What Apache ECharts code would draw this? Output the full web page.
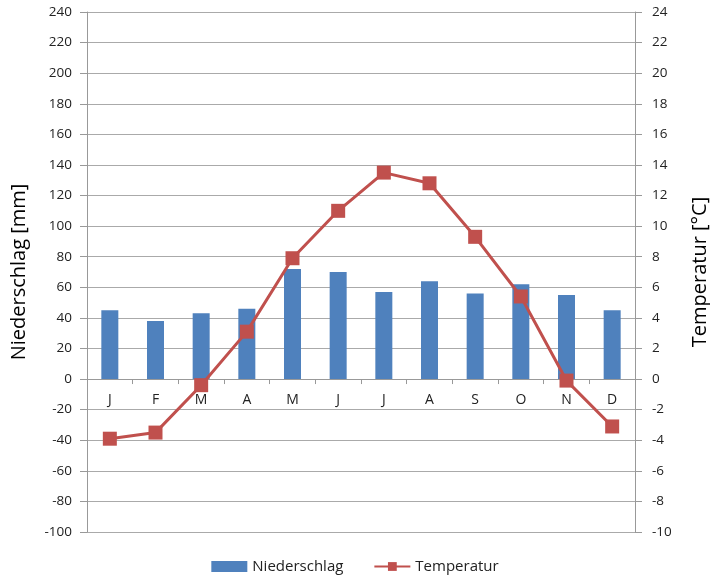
<!DOCTYPE html>
<html><head><meta charset="utf-8">
<script src="https://cdn.jsdelivr.net/npm/echarts@6/dist/echarts.min.js"></script>
<style>html,body{margin:0;padding:0;background:#fff}#c{width:710px;height:583px}</style>
</head><body><div id="c"></div>
<script>
var months = ['J','F','M','A','M','J','J','A','S','O','N','D'];
var niederschlag = [45, 38, 43, 46, 72, 70, 57, 64, 56, 62, 55, 45];
var temperatur = [-3.9, -3.5, -0.4, 3.1, 7.9, 11.0, 13.5, 12.8, 9.3, 5.4, -0.1, -3.1];

var chart = echarts.init(document.getElementById('c'));
var font = 'Open Sans';
var gridTop = 12, gridBottom = 51, chartH = 583;
var yMin = -100, yMax = 240;
var plotH = chartH - gridTop - gridBottom;
var zeroOffset = -plotH * (0 - yMin) / (yMax - yMin);
chart.setOption({
  animation: false,
  textStyle: {fontFamily: font},
  grid: {left: 87, right: 75, top: gridTop, bottom: gridBottom, outerBoundsMode: 'none', containLabel: false},
  legend: {
    bottom: 4, left: 'center', itemGap: 30, itemWidth: 36, itemHeight: 11,
    textStyle: {fontSize: 15, color: '#222', fontFamily: font},
    data: [
      {name: 'Niederschlag', icon: 'rect'},
      {name: 'Temperatur'}
    ]
  },
  xAxis: {
    type: 'category', data: months, boundaryGap: true, position: 'bottom', offset: zeroOffset,
    axisLine: {onZero: false, lineStyle: {color: '#999', width: 1}},
    axisTick: {show: true, length: 5, lineStyle: {color: '#999'}},
    axisLabel: {color: '#222', fontSize: 14, margin: 14, fontFamily: font},
    splitLine: {show: false}
  },
  yAxis: [{
    type: 'value', min: yMin, max: yMax, interval: 20,
    name: 'Niederschlag [mm]', nameLocation: 'middle', nameGap: 58,
    nameTextStyle: {fontSize: 20, color: '#000', fontFamily: font},
    axisLine: {show: true, lineStyle: {color: '#999'}},
    axisTick: {show: true, length: 7, lineStyle: {color: '#999'}},
    axisLabel: {color: '#222', fontSize: 13.5, margin: 15, fontFamily: font},
    splitLine: {show: true, lineStyle: {color: '#aaa', width: 1}}
  }, {
    type: 'value', min: -10, max: 24, interval: 2,
    name: 'Temperatur [°C]', nameLocation: 'middle', nameGap: 55, nameRotate: 90,
    nameTextStyle: {fontSize: 20, color: '#000', fontFamily: font},
    axisLine: {show: true, lineStyle: {color: '#999'}},
    axisTick: {show: true, length: 7, lineStyle: {color: '#999'}},
    axisLabel: {color: '#222', fontSize: 13.5, margin: 17, fontFamily: font},
    splitLine: {show: false}
  }],
  series: [{
    name: 'Niederschlag', type: 'bar', data: niederschlag, yAxisIndex: 0,
    barWidth: 17, itemStyle: {color: '#4F81BD'}
  }, {
    name: 'Temperatur', type: 'line', data: temperatur, yAxisIndex: 1,
    symbol: 'rect', symbolSize: 14,
    lineStyle: {color: '#C0504D', width: 3},
    itemStyle: {color: '#C0504D'}
  }]
});
</script></body></html>
